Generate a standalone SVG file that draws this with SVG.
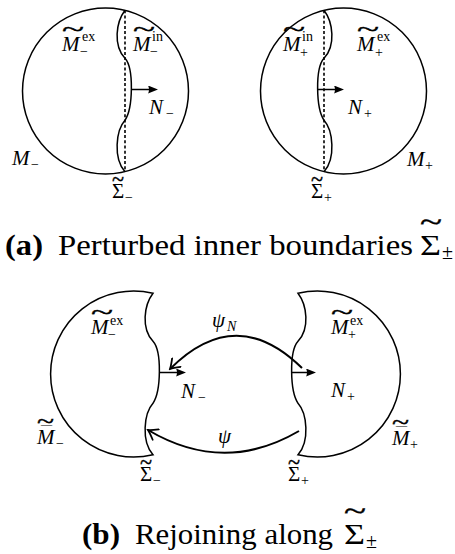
<svg xmlns="http://www.w3.org/2000/svg" width="455" height="554" viewBox="0 0 455 554">
<style>
.sh{fill:none;stroke:#000;stroke-width:1.5}
.dash{fill:none;stroke:#000;stroke-width:1.6;stroke-dasharray:3 2.2}
.arr{stroke:#000;stroke-width:1.5;fill:none}
.con{fill:none;stroke:#000;stroke-width:2}
text{font-family:"Liberation Serif",serif;fill:#000}
.it{font-style:italic;font-size:21px}
.sg{font-size:21px}
.sc{font-size:14px}
.isc{font-style:italic;font-size:14px}
.tl{font-size:24px;stroke:#000;stroke-width:0.4}
.tlc{font-size:29px;stroke:#000;stroke-width:0.4}
.cb{font-weight:bold;font-size:29px}
.cap{font-size:29px}
.cs{font-size:20px}
</style>
<defs>
<marker id="latex" viewBox="0 0 10 8" refX="6" refY="4" markerWidth="10" markerHeight="8" markerUnits="userSpaceOnUse" orient="auto">
<path d="M0,0 L10,4 L0,8 Q2,4 0,0 Z" fill="#000"/>
</marker>
<marker id="to" viewBox="-11 -7 13 14" refX="0" refY="0" markerWidth="13" markerHeight="14" markerUnits="userSpaceOnUse" orient="auto">
<path d="M-9,-6 Q-3,-1.5 0,0 Q-3,1.5 -9,6" fill="none" stroke="#000" stroke-width="1.8" stroke-linecap="round"/>
</marker>
</defs>

<g id="top-left">
<circle class="sh" cx="105.5" cy="91" r="83"/>
<line class="dash" x1="125" y1="10.3" x2="125" y2="171.7"/>
<path class="sh" d="M125,10.3 C116,22.3 113,45.3 125,58.3 C134,68.3 133,108.3 125,120.3 C116,130.3 113,158.3 125,171.7"/>
<line class="arr" x1="131.4" y1="89.5" x2="154" y2="89.5" marker-end="url(#latex)"/>
<text class="it" x="62" y="51">M</text>
<text class="tl" x="62" y="37" textLength="22" lengthAdjust="spacingAndGlyphs">~</text>
<text class="sc" x="82" y="41">ex</text>
<text class="sc" x="80" y="56">−</text>
<text class="it" x="133" y="51">M</text>
<text class="tl" x="133" y="37" textLength="22" lengthAdjust="spacingAndGlyphs">~</text>
<text class="sc" x="152" y="41">in</text>
<text class="sc" x="150" y="56">−</text>
<text class="it" x="149" y="114">N</text>
<text class="sc" x="166" y="118">−</text>
<text class="it" x="12" y="165">M</text>
<text class="sc" x="31" y="169">−</text>
<text class="sg" x="112" y="198">Σ</text>
<text class="tl" x="112" y="187" textLength="12" lengthAdjust="spacingAndGlyphs">~</text>
<text class="sc" x="125" y="202">−</text>
</g>

<g id="top-right">
<circle class="sh" cx="343.5" cy="91" r="83"/>
<line class="dash" x1="324" y1="10.3" x2="324" y2="171.7"/>
<path class="sh" d="M324,10.3 C333,22.3 336,45.3 324,58.3 C315,68.3 316,108.3 324,120.3 C333,130.3 336,158.3 324,171.7"/>
<line class="arr" x1="317.6" y1="89.5" x2="340" y2="89.5" marker-end="url(#latex)"/>
<text class="it" x="283" y="51">M</text>
<text class="tl" x="283" y="37" textLength="22" lengthAdjust="spacingAndGlyphs">~</text>
<text class="sc" x="302" y="41">in</text>
<text class="sc" x="300" y="57">+</text>
<text class="it" x="357" y="51">M</text>
<text class="tl" x="357" y="37" textLength="22" lengthAdjust="spacingAndGlyphs">~</text>
<text class="sc" x="377" y="41">ex</text>
<text class="sc" x="375" y="57">+</text>
<text class="it" x="348" y="114">N</text>
<text class="sc" x="364" y="118">+</text>
<text class="it" x="407" y="166">M</text>
<text class="sc" x="425" y="170">+</text>
<text class="sg" x="311" y="198">Σ</text>
<text class="tl" x="311" y="187" textLength="12" lengthAdjust="spacingAndGlyphs">~</text>
<text class="sc" x="324" y="202">+</text>
</g>

<g id="caption-a">
<text class="cb" x="5" y="255" textLength="38" lengthAdjust="spacingAndGlyphs">(a)</text>
<text class="cap" x="58" y="255" textLength="355" lengthAdjust="spacingAndGlyphs">Perturbed inner boundaries</text>
<text class="cap" x="420" y="255" textLength="21" lengthAdjust="spacingAndGlyphs">Σ</text>
<text class="tlc" x="420" y="232" textLength="22" lengthAdjust="spacingAndGlyphs">~</text>
<text class="cs" x="442" y="259">±</text>
</g>

<g id="bottom-left">
<path class="sh" d="M153,293.3 A83,83 0 1,0 153,454.7 C141,441.3 144,413.3 153,403.3 C161,391.3 162,351.3 153,341.3 C141,328.3 144,305.3 153,293.3 Z"/>
<line class="arr" x1="159.4" y1="372.5" x2="182" y2="372.5" marker-end="url(#latex)"/>
<text class="it" x="91" y="334">M</text>
<text class="tl" x="91" y="320" textLength="22" lengthAdjust="spacingAndGlyphs">~</text>
<text class="sc" x="110" y="325">ex</text>
<text class="sc" x="108" y="339">−</text>
<text class="it" x="181" y="398">N</text>
<text class="sc" x="198" y="402">−</text>
<text class="it" x="37" y="444">M</text>
<text class="sc" x="41" y="436" textLength="11" lengthAdjust="spacingAndGlyphs">¯</text>
<text class="tl" x="37" y="429" textLength="17" lengthAdjust="spacingAndGlyphs">~</text>
<text class="sc" x="56" y="448">−</text>
<text class="sg" x="140" y="481">Σ</text>
<text class="tl" x="140" y="470" textLength="12" lengthAdjust="spacingAndGlyphs">~</text>
<text class="sc" x="153" y="485">−</text>
</g>

<g id="bottom-right">
<path class="sh" d="M298,293.3 A83,83 0 1,1 298,454.7 C310,441.3 307,413.3 298,403.3 C290,391.3 289,351.3 298,341.3 C310,328.3 307,305.3 298,293.3 Z"/>
<line class="arr" x1="291.6" y1="372.5" x2="312" y2="372.5" marker-end="url(#latex)"/>
<text class="it" x="331" y="334">M</text>
<text class="tl" x="331" y="320" textLength="22" lengthAdjust="spacingAndGlyphs">~</text>
<text class="sc" x="350" y="325">ex</text>
<text class="sc" x="348" y="339">+</text>
<text class="it" x="331" y="397">N</text>
<text class="sc" x="347" y="401">+</text>
<text class="it" x="392" y="445">M</text>
<text class="sc" x="396" y="437" textLength="11" lengthAdjust="spacingAndGlyphs">¯</text>
<text class="tl" x="392" y="430" textLength="17" lengthAdjust="spacingAndGlyphs">~</text>
<text class="sc" x="410" y="449">+</text>
<text class="sg" x="288" y="481">Σ</text>
<text class="tl" x="288" y="470" textLength="12" lengthAdjust="spacingAndGlyphs">~</text>
<text class="sc" x="301" y="485">+</text>
</g>

<g id="connectors">
<path class="con" d="M302,368 Q236,303 170,369" marker-end="url(#to)"/>
<path class="con" d="M299,431 Q224,475 148,430" marker-end="url(#to)"/>
<text class="it" x="212" y="327">ψ</text>
<text class="isc" x="227" y="331">N</text>
<text class="it" x="218" y="443">ψ</text>
</g>

<g id="caption-b">
<text class="cb" x="82" y="544" textLength="38" lengthAdjust="spacingAndGlyphs">(b)</text>
<text class="cap" x="135" y="544" textLength="198" lengthAdjust="spacingAndGlyphs">Rejoining along</text>
<text class="cap" x="344" y="544" textLength="21" lengthAdjust="spacingAndGlyphs">Σ</text>
<text class="tlc" x="344" y="521" textLength="22" lengthAdjust="spacingAndGlyphs">~</text>
<text class="cs" x="366" y="548">±</text>
</g>
</svg>
